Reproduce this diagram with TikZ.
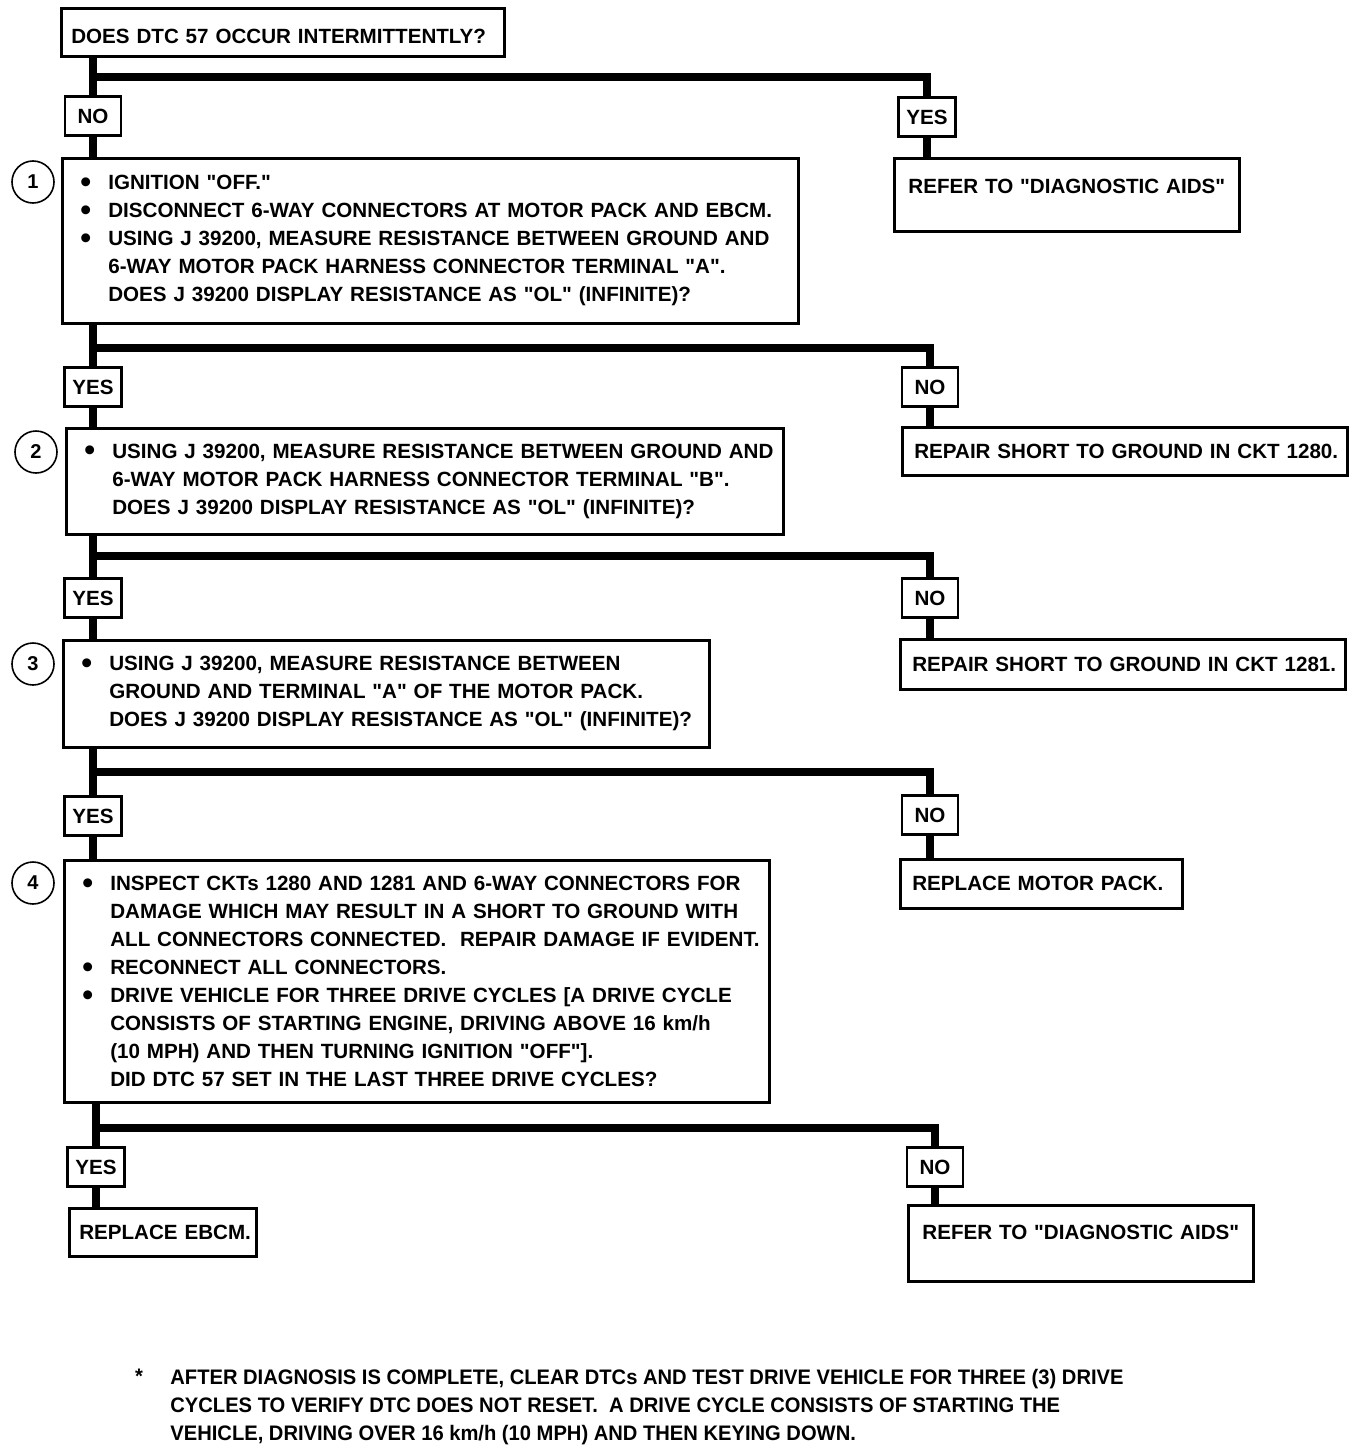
\documentclass[tikz,border=0pt]{standalone}
\usepackage{fontspec}
\usepackage{graphicx}
\newfontfamily\chartfont{Liberation Sans}
\newfontfamily\notefont{Liberation Sans}[FakeStretch=0.96]
\newcommand\bitem{\hspace*{9pt}\makebox[14pt][l]{\raisebox{-1.3pt}{\scalebox{1.5}{\textbullet}}}}
\newcommand\bcont{\hspace*{23pt}}
\begin{document}
\begin{tikzpicture}[x=0.5pt, y=-0.5pt,
  every node/.style={font=\chartfont\bfseries\fontsize{10.3}{14}\selectfont},
  box/.style={draw, line width=1.3pt, anchor=north west, inner sep=0pt, align=left},
  ans/.style={draw, line width=1.3pt, minimum width=28pt, minimum height=19.5pt, inner xsep=4pt, inner ysep=0pt},
  stepnum/.style={draw, circle, line width=0.8pt, minimum size=21pt, inner sep=0pt, font=\chartfont\bfseries\fontsize{10}{12}\selectfont},
  link/.style={line width=4pt}]
  \useasboundingbox (0,0) rectangle (1360,1450);

  \node[box, text width=221.5pt, text height=17.5pt, text depth=6.5pt] (q0) at (60,7) {\hspace*{5pt}DOES DTC 57 OCCUR INTERMITTENTLY?};
  \node[ans] (no0) at (93,116) {NO};
  \node[ans] (yes0) at (927,117) {YES};
  \node[stepnum] (c1) at (33,182) {1};
  \node[box, text width=368pt, minimum height=82.5pt] (s1) at (61,157) {\bitem IGNITION "OFF."\\
    \bitem DISCONNECT 6-WAY CONNECTORS AT MOTOR PACK AND EBCM.\\
    \bitem USING J 39200, MEASURE RESISTANCE BETWEEN GROUND AND\\
    \bcont 6-WAY MOTOR PACK HARNESS CONNECTOR TERMINAL "A".\\
    \bcont DOES J 39200 DISPLAY RESISTANCE AS "OL" (INFINITE)?};
  \node[box, text width=172.5pt, align=center, text height=17.5pt, text depth=19pt] (aids1) at (893,157) {REFER TO "DIAGNOSTIC AIDS"};

  \node[ans] (yes1) at (93,387) {YES};
  \node[ans] (no1) at (930,387) {NO};
  \node[stepnum] (c2) at (36,452) {2};
  \node[box, text width=358.5pt, minimum height=53pt] (s2) at (65,427) {\bitem USING J 39200, MEASURE RESISTANCE BETWEEN GROUND AND\\
    \bcont 6-WAY MOTOR PACK HARNESS CONNECTOR TERMINAL "B".\\
    \bcont DOES J 39200 DISPLAY RESISTANCE AS "OL" (INFINITE)?};
  \node[box, text width=222.5pt, minimum height=24pt] (fix1) at (901,426) {\hspace*{6pt}REPAIR SHORT TO GROUND IN CKT 1280.};

  \node[ans] (yes2) at (93,598) {YES};
  \node[ans] (no2) at (930,598) {NO};
  \node[stepnum] (c3) at (33,664) {3};
  \node[box, text width=323pt, minimum height=53.5pt] (s3) at (62,639) {\bitem USING J 39200, MEASURE RESISTANCE BETWEEN\\
    \bcont GROUND AND TERMINAL "A" OF THE MOTOR PACK.\\
    \bcont DOES J 39200 DISPLAY RESISTANCE AS "OL" (INFINITE)?};
  \node[box, text width=222.5pt, minimum height=25pt] (fix2) at (899,638) {\hspace*{6pt}REPAIR SHORT TO GROUND IN CKT 1281.};

  \node[ans] (yes3) at (93,816) {YES};
  \node[ans] (no3) at (930,815) {NO};
  \node[stepnum] (c4) at (33,883) {4};
  \node[box, text width=352.5pt, minimum height=121pt] (s4) at (63,859) {\bitem INSPECT CKTs 1280 AND 1281 AND 6-WAY CONNECTORS FOR\\
    \bcont DAMAGE WHICH MAY RESULT IN A SHORT TO GROUND WITH\\
    \bcont ALL CONNECTORS CONNECTED.\ \ REPAIR DAMAGE IF EVIDENT.\\
    \bitem RECONNECT ALL CONNECTORS.\\
    \bitem DRIVE VEHICLE FOR THREE DRIVE CYCLES [A DRIVE CYCLE\\
    \bcont CONSISTS OF STARTING ENGINE, DRIVING ABOVE 16 km/h\\
    \bcont (10 MPH) AND THEN TURNING IGNITION "OFF"].\\
    \bcont DID DTC 57 SET IN THE LAST THREE DRIVE CYCLES?};
  \node[box, text width=141pt, minimum height=24.5pt] (fix3) at (899,858) {\hspace*{6pt}REPLACE MOTOR PACK.};

  \node[ans] (yes4) at (96,1167) {YES};
  \node[ans] (no4) at (935,1167) {NO};
  \node[box, text width=93.5pt, minimum height=24pt] (ebcm) at (68,1207) {\hspace*{5pt}REPLACE EBCM.};
  \node[box, text width=172.5pt, align=center, text height=17pt, text depth=21pt] (aids2) at (907,1204) {REFER TO "DIAGNOSTIC AIDS"};

  \node[anchor=north, inner sep=0pt, font=\notefont\bfseries\fontsize{10.5}{14}\selectfont] (star) at (139,1369) {*};
  \node[anchor=north west, inner sep=0pt, align=left, font=\notefont\bfseries\fontsize{10.5}{14}\selectfont] (note) at (170,1369) {AFTER DIAGNOSIS IS COMPLETE, CLEAR DTCs AND TEST DRIVE VEHICLE FOR THREE (3) DRIVE\\
    CYCLES TO VERIFY DTC DOES NOT RESET.\ \ A DRIVE CYCLE CONSISTS OF STARTING THE\\
    VEHICLE, DRIVING OVER 16 km/h (10 MPH) AND THEN KEYING DOWN.};

  \coordinate (j0) at (93,77);
  \coordinate (j1) at (93,348);
  \coordinate (j2) at (93,556);
  \coordinate (j3) at (93,772);
  \coordinate (j4) at (96,1128);
  \draw[link] (q0.south -| j0) -- (no0.north);
  \draw[link] (j0) -| (yes0.north);
  \draw[link] (no0.south) -- (s1.north -| no0);
  \draw[link] (yes0.south) -- (aids1.north -| yes0);
  \draw[link] (s1.south -| j1) -- (yes1.north);
  \draw[link] (j1) -| (no1.north);
  \draw[link] (yes1.south) -- (s2.north -| yes1);
  \draw[link] (no1.south) -- (fix1.north -| no1);
  \draw[link] (s2.south -| j2) -- (yes2.north);
  \draw[link] (j2) -| (no2.north);
  \draw[link] (yes2.south) -- (s3.north -| yes2);
  \draw[link] (no2.south) -- (fix2.north -| no2);
  \draw[link] (s3.south -| j3) -- (yes3.north);
  \draw[link] (j3) -| (no3.north);
  \draw[link] (yes3.south) -- (s4.north -| yes3);
  \draw[link] (no3.south) -- (fix3.north -| no3);
  \draw[link] (s4.south -| j4) -- (yes4.north);
  \draw[link] (j4) -| (no4.north);
  \draw[link] (yes4.south) -- (ebcm.north -| yes4);
  \draw[link] (no4.south) -- (aids2.north -| no4);
\end{tikzpicture}
\end{document}
